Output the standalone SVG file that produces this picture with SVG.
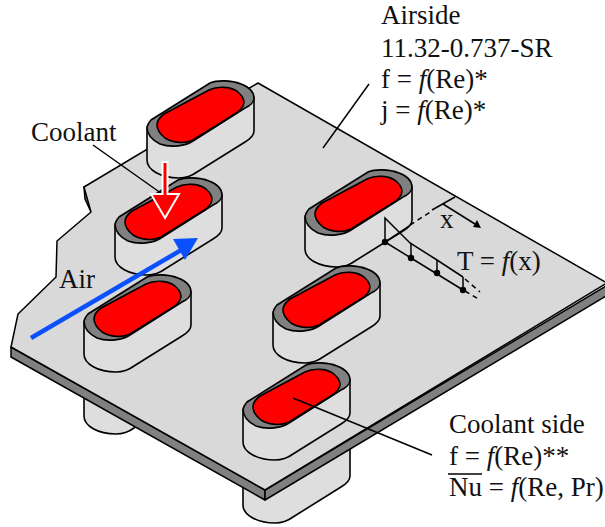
<svg xmlns="http://www.w3.org/2000/svg" xmlns:xlink="http://www.w3.org/1999/xlink" width="605" height="527" viewBox="0 0 605 527">
<style>
text{font-family:"Liberation Serif","Times New Roman",serif;font-size:27px;fill:#111}
.i{font-style:italic}
.ln{fill:none;stroke:#000;stroke-width:1.5}
.ds{fill:none;stroke:#000;stroke-width:1.5;stroke-dasharray:5 4}
.bd{fill:#dedede;stroke:#000;stroke-width:1.6;stroke-linejoin:round}
.rim{fill:#808080;stroke:#000;stroke-width:1.6}
.core{fill:#ff0000;stroke:#000;stroke-width:1.6}
.band{fill:#808080;stroke:#000;stroke-width:1.5;stroke-linejoin:round}
</style>
<defs>
<path id="body" class="bd" d="M0,0V32C0,42 14,50 32,50C40,50 46,47 50,44L98,14C103,11 107,8 107,3V-30Z"/>
<g id="collar">
<use href="#body"/>
<path class="rim" d="M0,-1C1,-4 2,-6 4,-8L63,-45C70,-48 84,-48 94,-44C102,-41 107,-36 107,-30C107,-26 103,-22 98,-20L46,13C39,18 24,20 13,16C5,12 0,6 0,-1Z"/>
<path class="core" d="M10,-3C10,-8 13,-11 17,-14L62,-38C70,-42 85,-42 92,-35C97,-31 98,-25 96,-22C95,-20 93,-18 91,-16L46,12C38,16 26,15 18,10C13,6 10,1 10,-3Z"/>
</g>
</defs>
<rect width="605" height="527" fill="#fff"/>
<g id="under-tubes">
<use href="#body" x="84" y="384"/>
<use href="#body" x="243" y="473"/>
</g>
<g id="plate">
<polygon class="band" points="11,347 265,490 265,500 11,357"/>
<polygon class="band" points="265,490 606,286 606,296 265,500"/>
<polygon class="band" points="84,187 89,200 91,212 85,199"/>
<polygon fill="#d9d9d9" stroke="#000" stroke-width="1.5" stroke-linejoin="round" points="258,83 607,283 265,490 11,347 18,314 56,277 57,241 91,212 84,187"/>
</g>
<g id="collar-1"><use href="#collar" x="147" y="128"/></g>
<g id="collar-2"><use href="#collar" x="115" y="225"/></g>
<g id="collar-3"><use href="#collar" x="84" y="322"/></g>
<g id="collar-4"><use href="#collar" x="305" y="217"/></g>
<g id="collar-5"><use href="#collar" x="273" y="313"/></g>
<g id="collar-6"><use href="#collar" x="243" y="410"/></g>
<g id="connectors">
<line class="ln" x1="323" y1="148" x2="369" y2="84"/>
<line class="ln" x1="93" y1="145" x2="165" y2="196"/>
<line class="ln" x1="293" y1="398" x2="432" y2="455"/>
<polyline class="ln" points="385,242 409,226"/>
<line class="ds" x1="410" y1="225" x2="432" y2="211"/>
<line class="ln" x1="432" y1="210" x2="455" y2="197"/>
<line class="ln" x1="443" y1="204" x2="475" y2="224"/>
<polygon points="473,227 481,228 477,220" fill="#000"/>
<polyline class="ln" points="463,290 411,258 385,242 385,218 397,230 410,243 437,260 463,277"/>
<line class="ln" x1="411" y1="243" x2="411" y2="258"/>
<line class="ln" x1="437" y1="260" x2="437" y2="273"/>
<line class="ln" x1="463" y1="277" x2="463" y2="290"/>
<line class="ds" x1="465" y1="279" x2="480" y2="292" stroke-dasharray="3 3"/>
<line class="ds" x1="465" y1="291" x2="480" y2="300" stroke-dasharray="3 3"/>
<circle cx="385" cy="242" r="3.2"/>
<circle cx="411" cy="258" r="3.2"/>
<circle cx="437" cy="273" r="3.2"/>
<circle cx="463" cy="290" r="3.2"/>
<line x1="31" y1="338" x2="183" y2="249" stroke="#0b50ff" stroke-width="4.5"/>
<polygon points="198,238 173,239 185,260" fill="#0b50ff"/>
<path d="M162.5,162H167.5V194H179L165,218L151,194H162.5Z" fill="#ff0000" stroke="#fff" stroke-width="2"/>
</g>
<g id="labels">
<text x="381" y="24">Airside</text>
<text x="381" y="57">11.32-0.737-SR</text>
<text x="381" y="88">f = <tspan class="i">f</tspan>(Re)*</text>
<text x="381" y="119">j = <tspan class="i">f</tspan>(Re)*</text>
<text x="31" y="141">Coolant</text>
<text x="59" y="288">Air</text>
<text x="440" y="228">x</text>
<text x="457" y="270">T = <tspan class="i">f</tspan>(x)</text>
<text x="449" y="433">Coolant side</text>
<text x="449" y="465">f = <tspan class="i">f</tspan>(Re)**</text>
<text x="449" y="496">Nu = <tspan class="i">f</tspan>(Re, Pr)</text>
<line class="ln" x1="448" y1="474" x2="482" y2="474"/>
</g>
</svg>
